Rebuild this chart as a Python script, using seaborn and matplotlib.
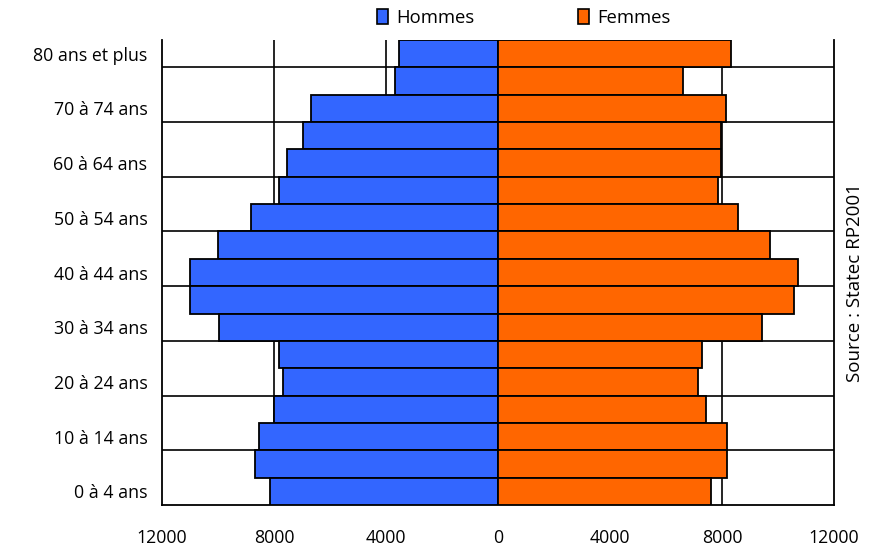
import matplotlib
matplotlib.use("Agg")
import matplotlib.pyplot as plt
import matplotlib.patches as mpatches
import seaborn as sns
import pandas as pd
import numpy as np

ages = ["80 ans et plus", "75 à 79 ans", "70 à 74 ans", "65 à 69 ans", "60 à 64 ans",
        "55 à 59 ans", "50 à 54 ans", "45 à 49 ans", "40 à 44 ans", "35 à 39 ans",
        "30 à 34 ans", "25 à 29 ans", "20 à 24 ans", "15 à 19 ans", "10 à 14 ans",
        "5 à 9 ans", "0 à 4 ans"]
hommes = [3525, 3670, 6670, 6950, 7520, 7810, 8820, 10000, 11000, 11000,
          9960, 7830, 7670, 8000, 8520, 8670, 8140]
femmes = [8330, 6610, 8130, 7980, 7980, 7860, 8560, 9700, 10700, 10560,
          9440, 7290, 7130, 7430, 8190, 8190, 7620]
xticks = [-12000, -8000, -4000, 0, 4000, 8000, 12000]

sns.set_theme(style="white")
plt.rcParams['font.family'] = ['Open Sans', 'DejaVu Sans']
plt.rcParams['text.color'] = 'black'
plt.rcParams['xtick.color'] = 'black'
plt.rcParams['ytick.color'] = 'black'

df = pd.DataFrame({"age": ages * 2,
                   "val": [-h for h in hommes] + femmes,
                   "sexe": ["Hommes"] * len(ages) + ["Femmes"] * len(ages)})

fig = plt.figure(figsize=(8.73, 5.47), dpi=100)
ax = fig.add_axes([162/873, 1-505/547, (834-162)/873, (505-40)/547])

blue = "#3366FF"
orange = "#FF6600"
sns.barplot(data=df, x="val", y="age", hue="sexe", order=ages, orient="h",
            palette={"Hommes": blue, "Femmes": orange}, dodge=False, width=1.0,
            saturation=1, edgecolor="black", linewidth=1.3, legend=False, ax=ax, zorder=3)

# gridlines
for xv in [-8000, -4000, 4000, 8000]:
    ax.axvline(xv, color="black", lw=1.2, zorder=1)
for i in range(0, 16, 2):
    ax.axhline(i + 0.5, color="black", lw=1.2, zorder=1)

fs = 12.8
ax.set_xlim(-12000, 12000)
ax.set_ylim(len(ages) - 0.5, -0.5)
ax.set_xticks(xticks)
ax.set_xticklabels([str(abs(v)) for v in xticks], fontsize=fs)
ax.set_yticks(range(0, len(ages), 2))
ax.set_yticklabels(ages[::2], fontsize=fs)
ax.tick_params(axis="x", direction="out", length=6, width=1.2, color="black", pad=11)
ax.tick_params(axis="y", length=0, pad=10.5)
ax.set_xlabel("")
ax.set_ylabel("")
for s in ["left", "right", "bottom"]:
    ax.spines[s].set_color("black")
    ax.spines[s].set_linewidth(1.3)
ax.spines["top"].set_visible(False)

handles = [mpatches.Patch(facecolor=blue, edgecolor="black", lw=1.2, label="Hommes"),
           mpatches.Patch(facecolor=orange, edgecolor="black", lw=1.2, label="Femmes")]
fig.legend(handles=handles, loc="center", bbox_to_anchor=(524/873, 1-18/547), ncol=2,
           frameon=False, fontsize=13.3, handlelength=0.6, handleheight=0.9,
           handletextpad=0.45, columnspacing=5.6)

fig.text(855/873, 1-283/547, "Source : Statec RP2001", rotation=90,
         ha="center", va="center", fontsize=13.5)

fig.savefig("out.png", dpi=100)
